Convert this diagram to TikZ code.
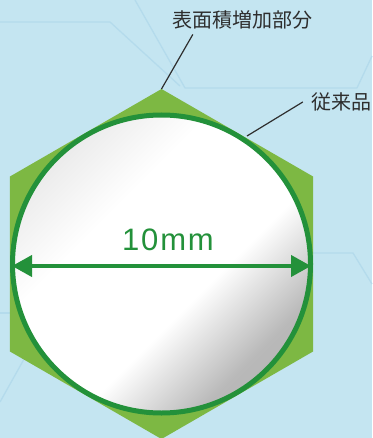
\documentclass[tikz,border=0pt]{standalone}
\usepackage{fontspec}
\newfontfamily\jpfont{Noto Sans CJK JP}
\newfontfamily\numfont[LetterSpace=6]{Liberation Sans}
\usetikzlibrary{arrows.meta}
\definecolor{bgblue}{HTML}{C4E5F1}
\definecolor{bgline}{HTML}{B4DBEC}
\definecolor{hexgreen}{HTML}{7DB843}
\definecolor{rimgreen}{HTML}{23913A}
\definecolor{labelgray}{HTML}{2E2E2E}
\pgfdeclareverticalshading{metal}{100bp}{color(0bp)=(gray!70); color(28bp)=(gray!55); color(42bp)=(white); color(62bp)=(white); color(80bp)=(gray!22); color(100bp)=(gray!28)}
\tikzstyle{bgpath} = [bgline, line width=1.3pt, line join=round]
\tikzstyle{leader} = [labelgray, line width=1.2pt]
\tikzstyle{callout} = [font=\jpfont\fontsize{20}{22}\selectfont, text=labelgray, inner sep=0pt]
\tikzstyle{dimtext} = [font=\numfont\fontsize{31}{33}\selectfont, text=rimgreen, inner sep=0pt]
\tikzstyle{dimarrow} = [rimgreen, line width=4pt, {Triangle[length=20pt,width=21pt]}-{Triangle[length=20pt,width=21pt]}]

\begin{document}
\begin{tikzpicture}[x=1pt, y=-1pt]
	\fill[bgblue] (0,0) rectangle (372,438);
	\useasboundingbox (0,0) rectangle (372,438);

	% faint hexagon pattern behind
	\draw[bgpath] (0,22) -- (110,22) -- (180,86);
	\draw[bgpath] (135,0) -- (185,88) -- (357,88) -- (372,56);
	\draw[bgpath] (313,253) -- (353,253) -- (372,284);
	\draw[bgpath] (0,313) -- (10,313);
	\draw[bgpath] (0,402) -- (28,352);

	% bolt head
	\coordinate (hexc) at (161.5,264);
	\coordinate (hextop) at (161.5,89);
	\fill[hexgreen] (hexc) +(-90:175) -- +(-30:175) -- +(30:175) -- +(90:175) -- +(150:175) -- +(210:175) -- cycle;

	% conventional round part
	\shade[shading=metal, shading angle=45] (hexc) circle (150);
	\draw[rimgreen, line width=5pt] (hexc) circle (149);
	\coordinate (rimpt) at (247,136);

	% diameter
	\coordinate (dl) at (12,266);
	\coordinate (dr) at (311,266);
	\draw[dimarrow] (dl) -- (dr);
	\node[dimtext] (dim) at (168,240) {10mm};

	% labels
	\node[callout] (surf) at (242,20) {表面積増加部分};
	\node[callout] (conv) at (341,102) {従来品};
	\draw[leader] ([xshift=21pt,yshift=-5pt]surf.south west) -- (hextop);
	\draw[leader] ([xshift=-8pt]conv.west) -- (rimpt);
\end{tikzpicture}
\end{document}
